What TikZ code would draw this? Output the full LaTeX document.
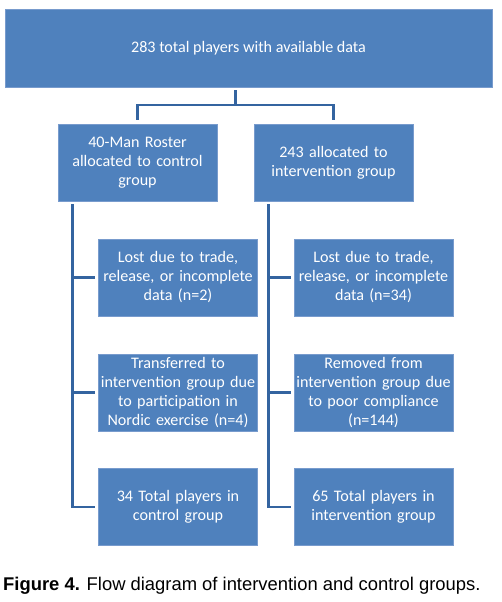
\documentclass[tikz,border=0pt]{standalone}
\usepackage{fontspec}
\setmainfont{Carlito}
\newfontfamily\capfont{Liberation Sans}
\usetikzlibrary{calc}
\definecolor{boxblue}{RGB}{79,129,189}
\definecolor{boxedge}{RGB}{120,155,205}
\definecolor{lineblue}{RGB}{52,100,160}
\tikzset{
  box/.style={draw=boxedge, line width=0.8pt, fill=boxblue, text=white, align=center,
    inner sep=0pt, font=\fontsize{16.1}{19}\selectfont},
  wbox/.style={box, minimum width=159pt, minimum height=77pt, text width=175pt, inner xsep=-8pt},
  conn/.style={draw=lineblue, line width=2.6pt},
}
\begin{document}
\begin{tikzpicture}[x=1pt,y=1pt]
\useasboundingbox (0,0) rectangle (501,602);
\node[box, minimum width=487pt, minimum height=78pt] (top) at (248.5,554) {283 total players with available data};
\node[wbox] (ctrl) at (137.5,439.5) {40-Man Roster\\allocated to control\\group};
\node[wbox] (intv) at (333.5,439.5) {243 allocated to\\intervention group};
\node[wbox] (c1) at (178,324.5) {Lost due to trade,\\release, or incomplete\\data (n=2)};
\node[wbox] (c2) at (178,209.5) {Transferred to\\intervention group due\\to participation in\\Nordic exercise (n=4)};
\node[wbox] (c3) at (178,95) {34 Total players in\\control group};
\node[wbox] (i1) at (373.5,324.5) {Lost due to trade,\\release, or incomplete\\data (n=34)};
\node[wbox] (i2) at (373.5,209.5) {Removed from\\intervention group due\\to poor compliance\\(n=144)};
\node[wbox] (i3) at (373.5,95) {65 Total players in\\intervention group};
\coordinate (m) at ($(ctrl.north)!0.5!(intv.north)$);
\coordinate (j) at (m |- 0,497);
\draw[conn] ([yshift=-3pt]top.south -| m) -- (j);
\draw[conn] ([yshift=4pt]ctrl.north) |- (j) -| ([yshift=4pt]intv.north);
% control trunk
\coordinate (ct) at ([xshift=15pt,yshift=-3pt]ctrl.south west);
\draw[conn] (ct) |- ([xshift=-3pt]c3.west);
\draw[conn] (ct |- c1.west) -- ([xshift=-3pt]c1.west);
\draw[conn] (ct |- c2.west) -- ([xshift=-3pt]c2.west);
% intervention trunk
\coordinate (it) at ([xshift=15pt,yshift=-3pt]intv.south west);
\draw[conn] (it) |- ([xshift=-3pt]i3.west);
\draw[conn] (it |- i1.west) -- ([xshift=-3pt]i1.west);
\draw[conn] (it |- i2.west) -- ([xshift=-3pt]i2.west);
\node[anchor=base west, inner sep=0pt, font=\capfont\fontsize{18.4}{22}\selectfont] (cap) at (3,11) {\textbf{Figure 4.} Flow diagram of intervention and control groups.};
\end{tikzpicture}
\end{document}
